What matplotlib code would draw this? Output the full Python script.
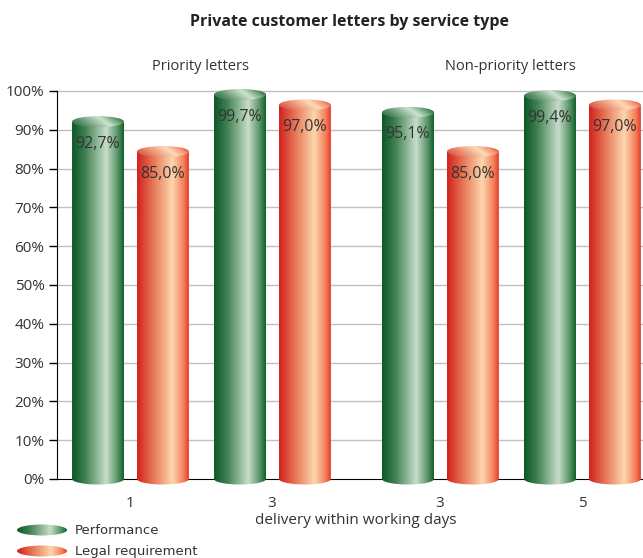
import numpy as np
import matplotlib
matplotlib.use("Agg")
import matplotlib.pyplot as plt
from matplotlib.patches import Ellipse, PathPatch
from matplotlib.path import Path

# ---------------- data ----------------
groups = ["Priority letters", "Non-priority letters"]
tick_labels = ["1", "3", "3", "5"]
performance = [92.7, 99.7, 95.1, 99.4]
legal = [85.0, 97.0, 85.0, 97.0]
group_of = [0, 0, 1, 1]
series_names = ["Performance", "Legal requirement"]
y_ticks = [0, 10, 20, 30, 40, 50, 60, 70, 80, 90, 100]

plt.rcParams['font.family'] = ['Open Sans', 'DejaVu Sans']

W, H = 643, 558
fig = plt.figure(figsize=(W / 100, H / 100), dpi=100)

ax_left, ax_right = 57, 643
ax_bottom, ax_top = 479, 91
ax = fig.add_axes([ax_left / W, (H - ax_bottom) / H,
                   (ax_right - ax_left) / W, (ax_bottom - ax_top) / H])

group_gap = 0.183
positions = [i + g * group_gap for i, g in enumerate(group_of)]
bar_w = 0.366
offs = [-0.225, 0.232]
ax.set_xlim(-0.514, 3.613)
ax.set_ylim(0, 100)

px_per_unit = (ax_bottom - ax_top) / 100.0
ell_h = 11 / px_per_unit


def make_cmap(stops):
    xs = np.linspace(0, 1, 256)
    pts = np.array([s[0] for s in stops])
    cols = np.array([s[1] for s in stops])
    out = np.zeros((256, 3))
    for c in range(3):
        out[:, c] = np.interp(xs, pts, cols[:, c])
    return out


green_grad = make_cmap([(0.0, (0.04, 0.34, 0.15)), (0.25, (0.25, 0.50, 0.32)),
                        (0.66, (0.78, 0.87, 0.79)), (0.88, (0.35, 0.58, 0.40)),
                        (1.0, (0.06, 0.38, 0.17))])
red_grad = make_cmap([(0.0, (0.82, 0.13, 0.12)), (0.3, (0.90, 0.45, 0.33)),
                      (0.68, (0.99, 0.84, 0.68)), (0.9, (0.96, 0.50, 0.36)),
                      (1.0, (0.90, 0.22, 0.15))])
grads = [green_grad, red_grad]


def lighten(g, f):
    return g + (1 - g) * f


def clip_to(im, patch):
    im.set_clip_path(patch)
    im.set_clip_box(fig.bbox)


def draw_cylinder(axis, xc, width, y0, y1, grad, eh, z=3):
    x0, x1 = xc - width / 2, xc + width / 2
    img = grad[np.newaxis, :, :]
    t = np.linspace(np.pi, 2 * np.pi, 40)
    arc = np.column_stack([xc + width / 2 * np.cos(t), y0 + eh / 2 * np.sin(t)])
    verts = [(x0, y1)] + [(x0, y0)] + arc.tolist() + [(x1, y0), (x1, y1), (x0, y1)]
    codes = [Path.MOVETO] + [Path.LINETO] * (len(verts) - 2) + [Path.CLOSEPOLY]
    body = PathPatch(Path(verts, codes), transform=axis.transData,
                     facecolor='none', edgecolor='none')
    axis.add_patch(body)
    im = axis.imshow(img, extent=[x0, x1, y0 - eh, y1], aspect='auto',
                     interpolation='bilinear', zorder=z)
    clip_to(im, body)
    n = 64
    xx, yy = np.meshgrid(np.linspace(0, 1, n), np.linspace(0, 1, n))
    tt = np.clip(xx * 0.85 + (1 - yy) * 0.25, 0, 1)
    idx = (tt * 255).astype(int)
    top_img = lighten(grad[idx], 0.12)
    top = Ellipse((xc, y1), width, eh, transform=axis.transData,
                  facecolor='none', edgecolor='none')
    axis.add_patch(top)
    im2 = axis.imshow(top_img, extent=[x0, x1, y1 - eh / 2, y1 + eh / 2],
                      aspect='auto', interpolation='bilinear', zorder=z + 0.1,
                      origin='upper')
    clip_to(im2, top)


for i, p in enumerate(positions):
    for s, vals in enumerate([performance, legal]):
        xc = p + offs[s]
        v = vals[i]
        draw_cylinder(ax, xc, bar_w, 0, v - 0.6, grads[s], ell_h)
        ax.text(xc, v - 6.3, f"{v:.1f}%".replace('.', ','), ha='center',
                va='center', fontsize=11.5, color='#333333', zorder=6)

ax.set_xlim(-0.514, 3.613)
ax.set_ylim(0, 100)

ax.set_yticks(y_ticks)
ax.set_yticklabels([f"{t}%" for t in y_ticks], fontsize=11, color='#333333')
for t in y_ticks[1:]:
    ax.axhline(t, color='#c0c0c0', lw=1.0, zorder=1, clip_on=False)
ax.tick_params(axis='y', direction='out', length=6, width=1, color='black', pad=3)
ax.set_xticks(positions)
ax.set_xticklabels(tick_labels, fontsize=11, color='#333333')
ax.tick_params(axis='x', length=0, pad=12)
for sp in ['top', 'right']:
    ax.spines[sp].set_visible(False)
ax.spines['left'].set_color('black')
ax.spines['bottom'].set_color('black')
ax.spines['left'].set_zorder(2)
ax.spines['bottom'].set_zorder(2)
ax.set_facecolor('none')


def fx(x):
    return x / W


def fy(y):
    return 1 - y / H


fig.text(fx(350), fy(22), "Private customer letters by service type",
         ha='center', va='center', fontsize=11.5, fontweight='bold', color='#222222')
fig.text(fx(200), fy(66), groups[0], ha='center', va='center', fontsize=10.5, color='#333333')
fig.text(fx(510), fy(66), groups[1], ha='center', va='center', fontsize=10.5, color='#333333')
fig.text(fx(356), fy(520), "delivery within working days", ha='center', va='center',
         fontsize=11, color='#333333')

lax = fig.add_axes([0, 0, 1, 1], zorder=-1)
lax.set_xlim(0, W)
lax.set_ylim(H, 0)
lax.axis('off')
for k, (name, grad) in enumerate(zip(series_names, grads)):
    cy = 530 + k * 21
    e = Ellipse((42, cy), 50, 11, facecolor='none', edgecolor='none')
    lax.add_patch(e)
    im = lax.imshow(grad[np.newaxis, :, :], extent=[17, 67, cy + 6, cy - 6],
                    aspect='auto', interpolation='bilinear')
    clip_to(im, e)
    lax.text(75, cy, name, ha='left', va='center', fontsize=9.5,
             family=['Liberation Sans Narrow', 'DejaVu Sans'], color='#333333')
lax.set_xlim(0, W)
lax.set_ylim(H, 0)

fig.savefig("out.png", dpi=100)
